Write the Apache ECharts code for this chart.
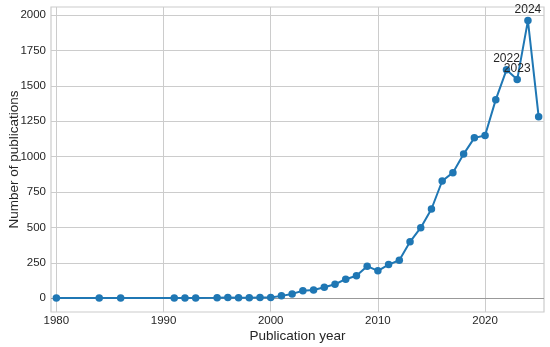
<!DOCTYPE html>
<html>
<head>
<meta charset="utf-8">
<script src="https://cdn.jsdelivr.net/npm/echarts@6/dist/echarts.min.js"></script>
<style>html,body{margin:0;padding:0;background:#fff}#c{width:550px;height:347px}</style>
</head>
<body>
<div id="c"></div>
<script>
const years = [1980,1984,1986,1991,1992,1993,1995,1996,1997,1998,1999,2000,2001,2002,2003,2004,2005,2006,2007,2008,2009,2010,2011,2012,2013,2014,2015,2016,2017,2018,2019,2020,2021,2022,2023,2024,2025];
const counts = [1,1,1,1,1,1,2,4,3,3,4,5,16,30,52,58,77,98,134,158,226,193,237,268,398,498,630,828,887,1018,1133,1150,1403,1614,1545,1962,1283];
const labeledYears = [2022,2023,2024];
const xTicks = [1980,1990,2000,2010,2020];
const yTicks = [0,250,500,750,1000,1250,1500,1750,2000];

const font = 'Liberation Sans, Arial, sans-serif';
const data = years.map((y,i) => {
  const item = {value:[y,counts[i]]};
  if (labeledYears.includes(y)) {
    item.label = {show:true, position:'top', distance:1, formatter: String(y), color:'#262626', fontSize:12, fontFamily:font};
  }
  return item;
});

const chart = echarts.init(document.getElementById('c'), null, {renderer:'canvas'});
chart.setOption({
  animation:false,
  grid:{left:51, right:6, top:7, bottom:35, show:true, borderColor:'#cccccc', borderWidth:1.2, containLabel:false, outerBoundsMode:'none'},
  xAxis:{
    type:'value', min:1979.5, max:2025.5,
    name:'Publication year', nameLocation:'middle', nameGap:17, nameMoveOverlap:false,
    nameTextStyle:{fontSize:13.5, color:'#262626', fontFamily:font},
    axisLine:{show:false}, axisTick:{show:false, customValues:xTicks},
    axisLabel:{customValues:xTicks, color:'#262626', fontSize:11.5, fontFamily:font, margin:3, formatter:v=>String(v)},
    splitLine:{show:true, lineStyle:{color:'#cccccc', width:1}}
  },
  yAxis:{
    type:'value', min:-98, max:2058,
    name:'Number of publications', nameLocation:'middle', nameGap:30, nameMoveOverlap:false,
    nameTextStyle:{fontSize:13.5, color:'#262626', fontFamily:font},
    axisLine:{show:false}, axisTick:{show:false, customValues:yTicks},
    axisLabel:{customValues:yTicks, color:'#262626', fontSize:11.5, fontFamily:font, margin:5, formatter:v=>String(v)},
    splitLine:{show:true, lineStyle:{color:'#cccccc', width:1}}
  },
  series:[{
    type:'line', data:data, symbol:'circle', symbolSize:7.5,
    itemStyle:{color:'#1f77b4'}, lineStyle:{color:'#1f77b4', width:2},
    markLine:{silent:true, symbol:['none','none'], label:{show:false},
      lineStyle:{color:'#999999', width:1, type:'solid'}, data:[{yAxis:0}], z:1},
    z:3
  }]
});
</script>
</body>
</html>
